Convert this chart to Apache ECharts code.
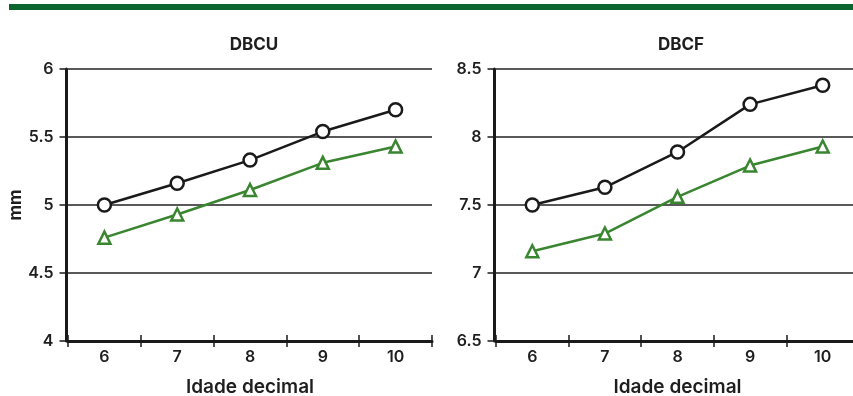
<!DOCTYPE html>
<html>
<head>
<meta charset="utf-8">
<script src="https://cdn.jsdelivr.net/npm/echarts@6/dist/echarts.min.js"></script>
<style>
html,body{margin:0;padding:0;background:#fff;}
#c{width:853px;height:396px;}
</style>
</head>
<body>
<div id="c"></div>
<script>
const categories = ['6', '7', '8', '9', '10'];
const dbcuCircle = [5.00, 5.16, 5.33, 5.54, 5.70];
const dbcuTriangle = [4.76, 4.93, 5.11, 5.31, 5.43];
const dbcfCircle = [7.50, 7.63, 7.89, 8.24, 8.38];
const dbcfTriangle = [7.16, 7.29, 7.56, 7.79, 7.93];
const titles = ['DBCU', 'DBCF'];
const yRanges = [[4, 6], [6.5, 8.5]];
const yStep = 0.5;
const xName = 'Idade decimal';
const yName = 'mm';

const FONT = 'Inter, Roboto, "DejaVu Sans", sans-serif';
const BLACK = '#1a1a1a';
const GREEN = '#3a8530';
const TXT = '#1e1e1e';

const chart = echarts.init(document.getElementById('c'));

const grids = [
  {left: 68, top: 69, width: 364, height: 272, outerBoundsMode: 'none', containLabel: false},
  {left: 496, top: 69, width: 363, height: 272, outerBoundsMode: 'none', containLabel: false}
];
const titleX = [249, 676];

function xAxes(i) {
  return [
    {
      type: 'category', gridIndex: i, data: categories, boundaryGap: true,
      axisLine: {show: true, lineStyle: {color: BLACK, width: 3}},
      axisTick: {show: true, inside: false, length: 6, lineStyle: {color: BLACK, width: 1.5}},
      axisLabel: {color: TXT, fontFamily: FONT, fontSize: 16, fontWeight: 600, margin: 8},
      name: xName, nameLocation: 'middle', nameGap: 37,
      nameTextStyle: {color: TXT, fontFamily: FONT, fontSize: 19, fontWeight: 600},
      splitLine: {show: false}
    },
    {
      type: 'category', gridIndex: i, data: categories, boundaryGap: true, position: 'bottom',
      axisLine: {show: false},
      axisTick: {show: true, inside: true, length: 6, lineStyle: {color: BLACK, width: 1.5}},
      axisLabel: {show: false},
      splitLine: {show: false}
    }
  ];
}

function yAxis(i) {
  const ax = {
    type: 'value', gridIndex: i, min: yRanges[i][0], max: yRanges[i][1], interval: yStep,
    offset: 1.5,
    axisLine: {show: true, lineStyle: {color: BLACK, width: 3}},
    axisTick: {show: true, inside: false, length: 7, lineStyle: {color: BLACK, width: 1.5}},
    axisLabel: {color: TXT, fontFamily: FONT, fontSize: 16, fontWeight: 600, margin: 13},
    splitLine: {show: true, lineStyle: {color: '#222', width: 1.5}}
  };
  if (i === 0) {
    ax.name = yName;
    ax.nameLocation = 'middle';
    ax.nameGap = 42;
    ax.nameTextStyle = {color: TXT, fontFamily: FONT, fontSize: 17, fontWeight: 'bold'};
  }
  return ax;
}

function lineSeries(data, i, color, symbol, size) {
  return {
    type: 'line', xAxisIndex: i * 2, yAxisIndex: i, data: data,
    symbol: symbol, symbolSize: size, showAllSymbol: true,
    lineStyle: {color: color, width: 2.5},
    itemStyle: {color: '#fff', borderColor: color, borderWidth: 2.5},
    z: 5
  };
}

chart.setOption({
  animation: false,
  backgroundColor: '#fff',
  title: titles.map((t, i) => ({
    text: t, left: titleX[i], top: 31, textAlign: 'center',
    textStyle: {color: TXT, fontFamily: FONT, fontSize: 17, fontWeight: 'bold'}
  })),
  graphic: [{
    type: 'rect', shape: {x: 9, y: 4, width: 844, height: 6},
    style: {fill: '#0a662e'}, silent: true
  }],
  grid: grids,
  xAxis: [].concat(xAxes(0), xAxes(1)),
  yAxis: [yAxis(0), yAxis(1)],
  series: [
    lineSeries(dbcuCircle, 0, BLACK, 'circle', 13),
    lineSeries(dbcuTriangle, 0, GREEN, 'triangle', 12),
    lineSeries(dbcfCircle, 1, BLACK, 'circle', 13),
    lineSeries(dbcfTriangle, 1, GREEN, 'triangle', 12)
  ]
});
</script>
</body>
</html>
